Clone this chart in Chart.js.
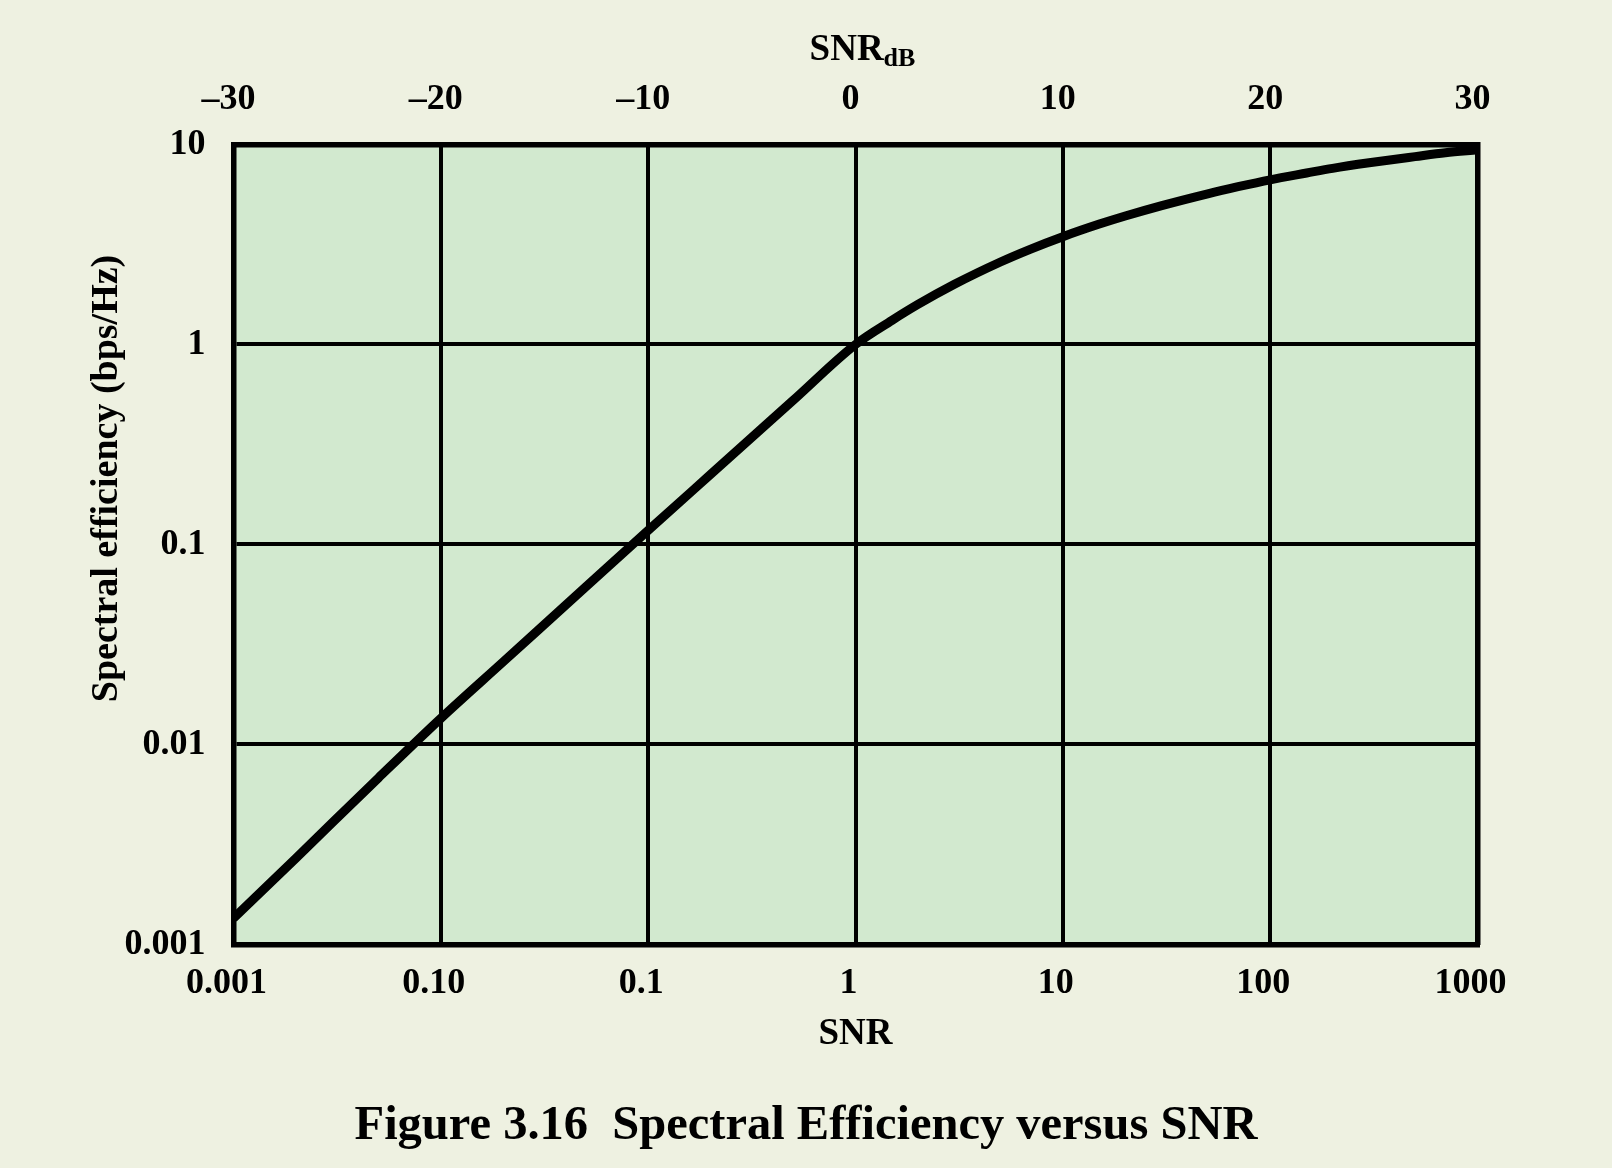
<!DOCTYPE html>
<html>
<head>
<meta charset="utf-8">
<script src="https://cdn.jsdelivr.net/npm/chart.js@4/dist/chart.umd.min.js"></script>
<style>
html, body { margin: 0; padding: 0; background: #eef1e1; }
canvas { display: block; }
</style>
</head>
<body>
<canvas id="c" width="1612" height="1168" style="width:1612px;height:1168px"></canvas>
<script>
// ---- data ----
const snr = [0.001, 0.002, 0.005, 0.01, 0.02, 0.05, 0.1, 0.2, 0.5, 1, 1.5, 2, 3, 5, 7, 10, 15, 20, 30, 50, 70, 100, 150, 200, 300, 500, 700, 1000];
const spectralEfficiency = [0.00135, 0.0027, 0.0068, 0.0135, 0.0259, 0.0613, 0.1175, 0.224, 0.525, 1.0, 1.32, 1.585, 2.0, 2.585, 3.0, 3.46, 4.0, 4.39, 4.95, 5.67, 6.15, 6.66, 7.2, 7.6, 8.1, 8.7, 9.1, 9.4];

const xTickValues = [0.001, 0.01, 0.1, 1, 10, 100, 1000];
const xTickLabels = ['0.001', '0.10', '0.1', '1', '10', '100', '1000'];
const yTickValues = [0.001, 0.01, 0.1, 1, 10];
const yTickLabels = ['0.001', '0.01', '0.1', '1', '10'];
const dbTickValues = [-30, -20, -10, 0, 10, 20, 30];
const dbTickLabels = ['\u201330', '\u201320', '\u201310', '0', '10', '20', '30'];

const captionText = 'Figure 3.16  Spectral Efficiency versus SNR';
const xTitle = 'SNR';
const yTitle = 'Spectral efficiency (bps/Hz)';
const topTitleMain = 'SNR';
const topTitleSub = 'dB';

const FONT = "'Liberation Serif', 'Times New Roman', Times, serif";
const BG = '#eef1e1';
const PLOT_BG = '#d2e9cf';

const backgroundPlugin = {
  id: 'bg',
  beforeDraw(chart) {
    const {ctx, chartArea: a} = chart;
    ctx.save();
    ctx.fillStyle = BG;
    ctx.fillRect(0, 0, chart.width, chart.height);
    ctx.fillStyle = PLOT_BG;
    ctx.fillRect(a.left, a.top, a.right - a.left, a.bottom - a.top);
    ctx.restore();
  },
  afterDraw(chart) {
    const {ctx, chartArea: a} = chart;
    ctx.save();
    ctx.fillStyle = '#000';
    // top axis title with subscript
    ctx.textBaseline = 'alphabetic';
    ctx.font = 'bold 37px ' + FONT;
    const wMain = ctx.measureText(topTitleMain).width;
    ctx.font = 'bold 26px ' + FONT;
    const wSub = ctx.measureText(topTitleSub).width;
    const cx = (a.left + a.right) / 2 + 7;
    const startX = cx - (wMain + wSub) / 2;
    ctx.font = 'bold 37px ' + FONT;
    ctx.textAlign = 'left';
    ctx.fillText(topTitleMain, startX, a.top - 85);
    ctx.font = 'bold 26px ' + FONT;
    ctx.fillText(topTitleSub, startX + wMain, a.top - 79);
    // y axis title
    ctx.translate(a.left - 116.5, a.top + 334);
    ctx.rotate(-Math.PI / 2);
    ctx.font = 'bold 38px ' + FONT;
    ctx.textAlign = 'center';
    ctx.fillText(yTitle, 0, 0);
    ctx.restore();
  }
};

const tickFont = {family: FONT, size: 36, weight: 'bold', lineHeight: 1.2};

new Chart(document.getElementById('c'), {
  type: 'line',
  data: {
    datasets: [{
      data: snr.map((x, i) => ({x: x, y: spectralEfficiency[i]})),
      borderColor: '#000',
      borderWidth: 9,
      pointRadius: 0,
      fill: false,
      cubicInterpolationMode: 'monotone',
      clip: 0
    }]
  },
  options: {
    responsive: false,
    animation: false,
    devicePixelRatio: 1,
    layout: {padding: 0},
    plugins: {
      legend: {display: false},
      tooltip: {enabled: false},
      title: {
        display: true,
        position: 'bottom',
        text: captionText,
        color: '#000',
        font: {family: FONT, size: 48.5, weight: 'bold', lineHeight: 1.2},
        padding: {top: 0, bottom: 12}
      }
    },
    scales: {
      x: {
        type: 'logarithmic',
        position: 'bottom',
        min: 0.001,
        max: 1000,
        afterBuildTicks: s => { s.ticks = xTickValues.map(v => ({value: v})); },
        afterFit: s => { s.height = 153.4; },
        ticks: {
          callback: (v, i) => xTickLabels[i],
          font: tickFont,
          color: '#000',
          padding: 18,
          labelOffset: -7,
          autoSkip: false,
          maxRotation: 0,
          minRotation: 0
        },
        grid: {color: '#000', lineWidth: 4, drawTicks: false},
        border: {display: true, color: '#000', width: 5.5},
        title: {
          display: true,
          text: xTitle,
          color: '#000',
          font: {family: FONT, size: 37, weight: 'bold', lineHeight: 1.2},
          padding: {top: 0, bottom: 41}
        }
      },
      y: {
        type: 'logarithmic',
        position: 'left',
        min: 0.001,
        max: 10,
        afterBuildTicks: s => { s.ticks = yTickValues.map(v => ({value: v})); },
        afterFit: s => { s.width = 233.5; },
        ticks: {
          callback: (v, i) => yTickLabels[i],
          font: tickFont,
          color: '#000',
          padding: 28,
          autoSkip: false
        },
        grid: {color: '#000', lineWidth: 4, drawTicks: false},
        border: {display: true, color: '#000', width: 5.5}
      },
      x2: {
        type: 'linear',
        position: 'top',
        min: -30,
        max: 30,
        afterBuildTicks: s => { s.ticks = dbTickValues.map(v => ({value: v})); },
        afterFit: s => { s.height = 144.5; },
        ticks: {
          callback: (v, i) => dbTickLabels[i],
          font: tickFont,
          color: '#000',
          padding: 23,
          labelOffset: -5,
          autoSkip: false,
          maxRotation: 0,
          minRotation: 0
        },
        grid: {drawOnChartArea: false, drawTicks: false},
        border: {display: true, color: '#000', width: 5.5}
      },
      y2: {
        type: 'linear',
        position: 'right',
        min: 0,
        max: 1,
        afterFit: s => { s.width = 134.5; },
        ticks: {display: false},
        grid: {drawOnChartArea: false, drawTicks: false},
        border: {display: true, color: '#000', width: 5.5}
      }
    }
  },
  plugins: [backgroundPlugin]
});
</script>
</body>
</html>
